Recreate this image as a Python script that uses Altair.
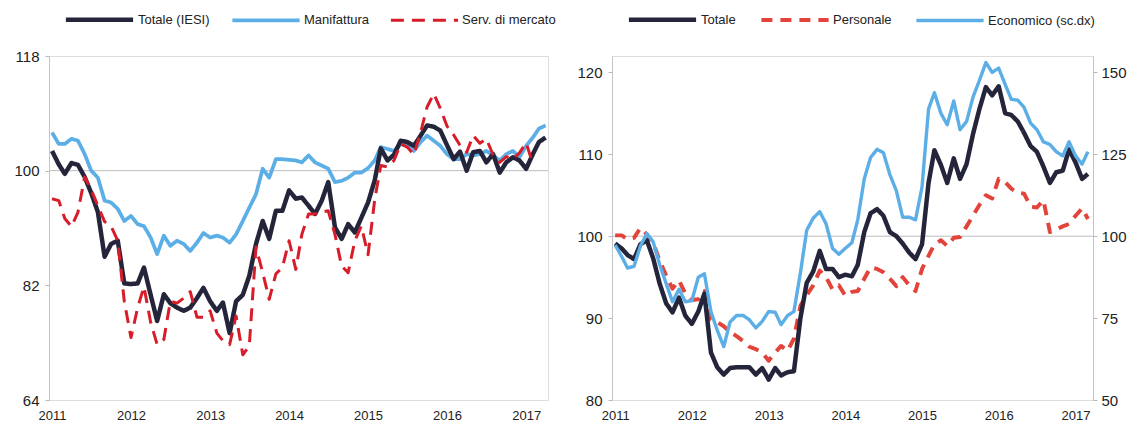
import altair as alt
import pandas as pd

# ---------------- data ----------------
left_series = ["Totale (IESI)", "Manifattura", "Serv. di mercato"]
right_series = ["Totale", "Personale", "Economico (sc.dx)"]

left_totale = [103.1, 101.0, 99.5, 101.2, 100.9, 99.0, 96.5, 93.5, 86.5, 88.5,
               89.0, 82.3, 82.2, 82.3, 84.8, 80.5, 76.4, 80.6, 79.2, 78.5,
               78.0, 78.5, 80.0, 81.6, 79.5, 78.0, 79.3, 74.5, 79.5, 80.5,
               83.5, 88.5, 92.1, 89.3, 93.7, 93.7, 96.9, 95.6, 95.8, 94.5,
               93.2, 95.3, 98.2, 91.1, 89.3, 91.6, 90.3, 92.6, 95.0, 98.5,
               103.5, 101.6, 102.5, 104.7, 104.5, 103.9, 105.5, 107.1, 106.9, 106.3,
               104.0, 101.8, 103.0, 100.0, 102.9, 103.1, 101.3, 102.6, 99.7, 101.3,
               102.1, 101.6, 100.3, 102.6, 104.5, 105.2]
left_manif = [106.0, 104.2, 104.2, 105.0, 104.7, 102.6, 100.0, 98.9, 95.3, 95.0,
              94.0, 92.1, 92.9, 91.6, 91.3, 89.5, 86.9, 89.8, 88.2, 89.0,
              88.5, 87.4, 88.7, 90.2, 89.5, 89.8, 89.5, 88.7, 90.0, 92.1,
              94.2, 96.3, 100.3, 98.9, 101.8, 101.8, 101.7, 101.6, 101.3, 102.4,
              101.3, 100.8, 100.3, 98.2, 98.4, 98.9, 99.7, 99.7, 100.4, 101.6,
              103.7, 103.4, 103.1, 104.2, 103.9, 103.1, 104.5, 105.5, 104.7, 103.9,
              102.6, 101.8, 101.8, 102.6, 102.4, 102.6, 103.1, 102.4, 101.6, 102.6,
              103.1, 102.1, 103.9, 105.2, 106.6, 107.1]
left_serv = [95.6, 95.3, 92.5, 91.2, 93.5, 99.0, 97.0, 94.5, 92.0, 91.3,
             89.0, 79.5, 73.8, 78.5, 81.8, 76.2, 72.7, 73.5, 79.5, 79.2,
             80.0, 81.0, 77.0, 77.0, 78.0, 74.5, 73.3, 72.7, 77.2, 71.1,
             72.5, 88.0, 84.0, 79.8, 83.8, 84.8, 89.0, 84.5, 90.0, 93.2,
             93.2, 93.5, 93.7, 90.0, 85.0, 84.0, 89.0, 91.3, 86.8, 95.5,
             100.8, 100.6, 101.6, 104.2, 103.7, 102.5, 106.0, 110.0, 112.1, 109.8,
             107.0, 105.6, 104.0, 102.9, 105.5, 104.3, 105.0, 102.5, 101.3, 102.2,
             101.8, 102.8, 104.4, 101.0, None, None]

right_totale = [99.1, 98.5, 97.7, 97.2, 99.0, 99.5, 97.3, 94.2, 91.8, 90.7,
                92.5, 90.3, 89.3, 90.8, 93.0, 85.8, 84.0, 83.1, 83.9, 84.0,
                84.0, 84.0, 83.1, 83.9, 82.5, 83.9, 83.0, 83.4, 83.5, 90.0,
                94.3, 95.7, 98.2, 96.0, 96.0, 95.0, 95.3, 95.1, 96.5, 100.5,
                102.8, 103.3, 102.5, 100.5, 100.0, 99.1, 98.0, 97.2, 99.0, 106.5,
                110.5, 108.7, 106.5, 109.5, 107.0, 108.8, 112.5, 115.5, 118.2, 117.2,
                118.3, 115.0, 114.8, 114.0, 112.6, 111.0, 110.3, 108.5, 106.5, 107.8,
                108.0, 110.6, 109.0, 107.0, 107.6]
right_pers = [100.1, 100.1, 99.6, 99.8, 101.0, 100.2, 99.2, 97.0, 95.2, 93.6,
              94.6, 93.0, 92.2, 92.3, 93.3, 89.8, 89.5, 89.0, 88.3, 87.8,
              87.2, 86.5, 86.2, 85.8, 84.8, 85.8, 86.6, 86.0, 87.5, 91.5,
              92.8, 94.0, 95.8, 95.0, 93.5, 94.0, 92.7, 93.2, 93.3, 94.8,
              96.2, 96.0, 95.6, 94.8, 93.9, 95.0, 94.0, 93.3, 96.0, 97.6,
              99.0, 99.5, 98.8, 99.8, 99.9, 101.2, 102.5, 103.8, 105.0, 104.6,
              107.0, 106.6, 105.8, 105.3, 105.2, 103.6, 103.5, 104.4, 100.5, 100.8,
              101.2, 101.5, 102.5, 103.4, 102.1]
right_econ = [97.3, 93.8, 90.3, 90.8, 97.0, 100.8, 98.3, 91.3, 85.5, 80.0,
              83.8, 80.0, 80.3, 87.5, 88.5, 77.0, 71.3, 66.3, 73.8, 75.8,
              75.8, 74.5, 72.0, 74.0, 77.0, 76.8, 73.0, 75.8, 77.0, 88.8,
              101.8, 105.5, 107.5, 103.8, 96.3, 94.5, 96.3, 98.0, 105.0, 117.5,
              124.0, 126.5, 125.5, 118.8, 113.8, 105.8, 105.8, 105.0, 115.0, 138.8,
              143.8, 137.5, 134.0, 141.3, 132.5, 135.0, 142.5, 147.5, 153.0, 150.0,
              151.3, 146.3, 141.8, 141.5, 139.3, 134.5, 132.5, 128.8, 128.0, 125.8,
              124.5, 128.8, 124.5, 122.0, 125.8]

years = [2011, 2012, 2013, 2014, 2015, 2016, 2017]
left_ticks = [64, 82, 100, 118]
right_ticks = [80, 90, 100, 110, 120]
right2_ticks = [50, 75, 100, 125, 150]

left_dates = pd.date_range("2011-01-01", periods=len(left_totale), freq="MS")
right_dates = pd.date_range("2011-01-01", periods=len(right_totale), freq="MS")


def frame(dates, values, name):
    return pd.DataFrame({"date": dates, "value": values, "series": name})


# ---------------- styling ----------------
DARK = "#24253a"
BLUE = "#5cafe6"
RED_L = "#d81d2a"
RED_R = "#e2433a"
FONT = "Liberation Sans, Arial, sans-serif"

year_values = [alt.DateTime(year=y, month=1, date=1) for y in years]


def x_enc(start, end):
    return alt.X(
        "date:T",
        scale=alt.Scale(domain=[start, end]),
        axis=alt.Axis(values=year_values, format="%Y", domain=False, ticks=False,
                      grid=False, labelFlush=False, labelFont=FONT,
                      labelFontSize=13, labelColor="#222", labelPadding=9,
                      title=None),
    )


def y_axis(vals, orient="left"):
    return alt.Axis(values=vals, orient=orient, grid=False, domainColor="#c4c4c4",
                    tickColor="#b8b8b8", tickSize=4,
                    labelFont=FONT, labelFontSize=15, labelColor="#222",
                    labelPadding=6 if orient == "left" else 4, title=None)


# legend symbol: a long line drawn by a custom path on a small symbol box
SYMBOL_PATH = "M-4.2,0H4.2"


def legend(x, y, gap):
    return alt.Legend(orient="none", legendX=x, legendY=y, direction="horizontal",
                      title=None, symbolType=SYMBOL_PATH, symbolSize=256,
                      labelFont=FONT, labelFontSize=13, labelColor="#222",
                      labelOffset=28, columnPadding=gap)


def series_enc(domain, colors, dashes, widths, lx, ly, gap):
    lg = legend(lx, ly, gap)
    return dict(
        color=alt.Color("series:N", scale=alt.Scale(domain=domain, range=colors), legend=lg),
        strokeDash=alt.StrokeDash("series:N", scale=alt.Scale(domain=domain, range=dashes), legend=lg),
        strokeWidth=alt.StrokeWidth("series:N", scale=alt.Scale(domain=domain, range=widths), legend=lg),
    )


def line(df, x, y, enc):
    return alt.Chart(df).mark_line(strokeCap="butt", strokeJoin="round").encode(
        x=x, y=y, **enc)


# ---------------- left panel ----------------
lx = x_enc(alt.DateTime(year=2010, month=12, date=18), alt.DateTime(year=2017, month=4, date=12))
ly = alt.Y("value:Q", scale=alt.Scale(domain=[64, 118], nice=False, zero=False),
           axis=y_axis(left_ticks))
lenc = series_enc(left_series, [DARK, BLUE, RED_L], [[1, 0], [1, 0], [13, 8]],
                  [4.5, 3.0, 3.6], 40, -47, 14)

rule_left = alt.Chart(pd.DataFrame({"value": [100]})).mark_rule(
    color="#bdbdbd", strokeWidth=1).encode(y=ly)

left = alt.layer(
    rule_left,
    line(frame(left_dates, left_manif, left_series[1]), lx, ly, lenc),
    line(frame(left_dates, left_totale, left_series[0]), lx, ly, lenc),
    line(frame(left_dates, left_serv, left_series[2]), lx, ly, lenc),
).properties(width=499, height=344)

# ---------------- right panel ----------------
rx = x_enc(alt.DateTime(year=2010, month=12, date=17), alt.DateTime(year=2017, month=3, date=25))
ry = alt.Y("value:Q", scale=alt.Scale(domain=[80, 122], nice=False, zero=False),
           axis=y_axis(right_ticks))
ry2 = alt.Y("value:Q", scale=alt.Scale(domain=[50, 155], nice=False, zero=False),
            axis=y_axis(right2_ticks, orient="right"))
renc = series_enc(right_series, [DARK, RED_R, BLUE], [[1, 0], [11, 8], [1, 0]],
                  [4.5, 3.4, 3.0], 40, -47, 17)

rule_right = alt.Chart(pd.DataFrame({"value": [100]})).mark_rule(
    color="#bdbdbd", strokeWidth=1).encode(y=ry)

right_left_axis = alt.layer(
    rule_right,
    line(frame(right_dates, right_pers, right_series[1]), rx, ry, renc),
    line(frame(right_dates, right_totale, right_series[0]), rx, ry, renc),
)
right_econ_layer = line(frame(right_dates, right_econ, right_series[2]), rx, ry2, renc)

right = alt.layer(right_left_axis, right_econ_layer).resolve_scale(
    y="independent").properties(width=481, height=344)

chart = alt.hconcat(left, right, spacing=64, bounds="flush").resolve_scale(
    color="independent", strokeDash="independent", strokeWidth="independent"
).resolve_legend(
    color="independent", strokeDash="independent", strokeWidth="independent"
).properties(
    padding={"left": 5, "top": 0, "right": 0, "bottom": 0}
).configure_view(stroke=None).configure(background="white")

chart.save("out.html", embed_options={"renderer": "svg", "actions": False})
